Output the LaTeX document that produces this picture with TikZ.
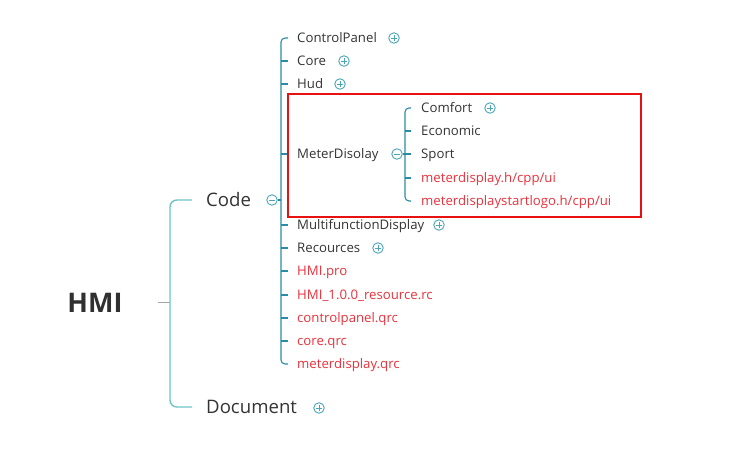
\documentclass[tikz,border=0pt]{standalone}
\usepackage{fontspec}
\setmainfont{Open Sans}
\definecolor{txt}{HTML}{333333}
\definecolor{redt}{HTML}{E8323C}
\definecolor{lone}{HTML}{6CC4C4}
\definecolor{ltwo}{HTML}{2A8CA4}
\definecolor{circ}{HTML}{4AA6B6}
\definecolor{boxr}{HTML}{E81010}
\begin{document}
\begin{tikzpicture}[x=1pt,y=-1pt,
  kid/.style={anchor=west,inner sep=0pt,font=\fontsize{13.2}{15}\selectfont,text=txt,text height=10.5,text depth=1.2},
  rkid/.style={kid,text=redt},
  big/.style={anchor=west,inner sep=0pt,font=\fontsize{18.6}{21}\selectfont,text=txt,text height=14.5,text depth=1.5},
  l1/.style={draw=lone,line width=1.4pt},
  l2/.style={draw=ltwo,line width=1.1pt},
  tog/.style={circle,draw=circ,line width=0.9pt,minimum size=10.5pt,inner sep=0pt},
  plustog/.style={tog,path picture={\draw[circ,line width=0.8pt]
     ([xshift=-2.8pt]path picture bounding box.center)--([xshift=2.8pt]path picture bounding box.center)
     ([yshift=-2.8pt]path picture bounding box.center)--([yshift=2.8pt]path picture bounding box.center);}},
  minustog/.style={tog,path picture={\draw[circ,line width=0.9pt]
     ([xshift=-2.8pt]path picture bounding box.center)--([xshift=2.8pt]path picture bounding box.center);}}
]
\useasboundingbox (0,0) rectangle (738,458);
% root
\node[anchor=center,inner sep=0pt,font=\fontsize{27}{30}\selectfont\bfseries,text=txt!95!black,text height=19.3,text depth=0] (hmi) at (95,303) {HMI};
\coordinate (rootend) at (170,302);
\draw[draw=gray!70,line width=1pt] (158,302) -- (rootend);
% first level
\node[big] (code) at (206,200) {Code};
\node[big] (doc) at (206,407) {Document};
\draw[l1,rounded corners=7pt] ([xshift=-14pt]code.west) -| (rootend) |- ([xshift=-14pt]doc.west);
\node[minustog] (codet) at (272,200) {};
\node[plustog] (doct) at (319,408) {};
% second level
\node[kid] (cp) at (297,38) {ControlPanel};
\node[kid] (core) at (297,61) {Core};
\node[kid] (hud) at (297,84) {Hud};
\node[kid] (md) at (297,154) {MeterDisolay};
\node[kid] (mf) at (297,225) {MultifunctionDisplay};
\node[kid] (rc) at (297,248) {Recources};
\node[rkid] (pro) at (297,271) {HMI.pro};
\node[rkid] (rcf) at (297,295) {HMI\_1.0.0\_resource.rc};
\node[rkid] (cpq) at (297,318) {controlpanel.qrc};
\node[rkid] (coq) at (297,341) {core.qrc};
\node[rkid] (mdq) at (297,364) {meterdisplay.qrc};
\coordinate (bus) at (281,200);
\draw[l2] (codet.east) -- (bus);
\draw[l2,rounded corners=4pt] ([xshift=-9pt]cp.west) -| (bus) |- ([xshift=-9pt]mdq.west);
\foreach \n in {core,hud,md,mf,rc,pro,rcf,cpq,coq}
  \draw[l2] (bus |- \n.west) -- ([xshift=-9pt]\n.west);
\node[plustog] (cpt) at (394,38) {};
\node[plustog] (coret) at (344,61) {};
\node[plustog] (hudt) at (340,84) {};
\node[plustog] (mft) at (439,225) {};
\node[plustog] (rct) at (378,248) {};
% third level
\node[minustog] (mdt) at (397,154) {};
\node[kid] (cf) at (421,108) {Comfort};
\node[kid] (ec) at (421,131) {Economic};
\node[kid] (sp) at (421,154) {Sport};
\node[rkid] (mh) at (421,178) {meterdisplay.h/cpp/ui};
\node[rkid] (ms) at (421,201) {meterdisplaystartlogo.h/cpp/ui};
\coordinate (bus3) at (405,154);
\draw[l2] (mdt.east) -- (bus3);
\draw[l2,rounded corners=4pt] ([xshift=-10pt]cf.west) -| (bus3) |- ([xshift=-10pt]ms.west);
\foreach \n in {ec,sp,mh}
  \draw[l2] (bus3 |- \n.west) -- ([xshift=-10pt]\n.west);
\node[plustog] (cft) at (490,108) {};
% highlight box
\draw[boxr,line width=1.8pt] (288,94) rectangle (641,217);
\end{tikzpicture}
\end{document}
